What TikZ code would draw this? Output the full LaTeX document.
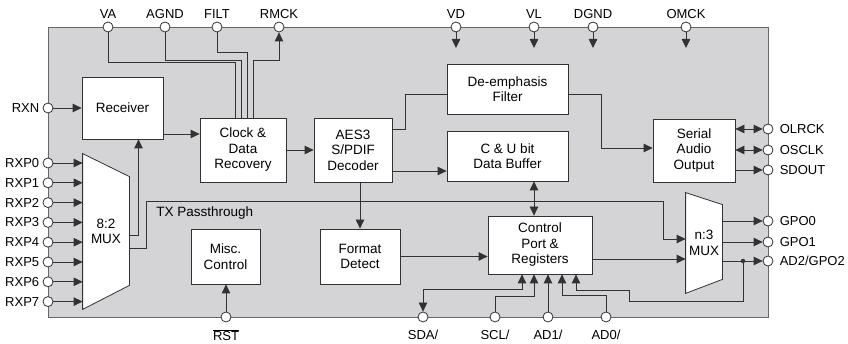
\documentclass[tikz,border=0pt]{standalone}
\usepackage{fontspec}
\setmainfont{Liberation Sans}
\usetikzlibrary{positioning, arrows.meta}
\definecolor{chipgray}{RGB}{212,212,214}
\definecolor{wiregray}{RGB}{50,50,50}

\begin{document}
\begin{tikzpicture}[x=1pt, y=-1pt, line width=0.8pt,
	chipbox/.style={draw=black!60, fill=chipgray, minimum width=720pt, minimum height=290pt, inner sep=0pt},
	block/.style={draw=wiregray, fill=white, align=center, inner sep=1pt, font=\fontsize{13.5}{15.5}\selectfont},
	muxbox/.style={inner sep=0pt, minimum width=#1},
	muxshape/.style={draw=wiregray, fill=white, line join=miter},
	boxtext/.style={align=center, font=\fontsize{13.5}{15.5}\selectfont},
	pinlbl/.style={inner sep=0pt, font=\fontsize{13}{15}\selectfont},
	pad/.style={circle, draw=wiregray, fill=white, inner sep=0pt, minimum size=10pt},
	toppad/.style={pad, label={[pinlbl, yshift=3pt]above:#1}},
	botpad/.style={pad, label={[pinlbl, yshift=-7pt]below:#1}},
	leftpad/.style={pad, label={[pinlbl, xshift=-3pt]left:#1}},
	rightpad/.style={pad, label={[pinlbl, xshift=6pt]right:#1}},
	dot/.style={circle, fill=wiregray, inner sep=0pt, minimum size=4.5pt},
	wire/.style={draw=wiregray},
	arr/.style={-{Triangle[length=9pt, width=8.5pt]}},
	dbl/.style={{Triangle[length=9pt, width=8.5pt]}-{Triangle[length=9pt, width=8.5pt]}}
	]
	\useasboundingbox (0,0) rectangle (848,344);
	
	% chip body
	\node[chipbox] (chip) at (408,172) {};
	
	% blocks
	\node[block, minimum width=81pt, minimum height=62pt] (recv) at (122.5,108) {Receiver};
	\node[block, minimum width=86pt, minimum height=64pt] (cdr) at (243,150) {Clock \&\\Data\\Recovery};
	\node[block, minimum width=78pt, minimum height=64pt] (aes) at (353,150) {AES3\\S/PDIF\\Decoder};
	\node[block, minimum width=121pt, minimum height=50pt] (deemph) at (507.5,89) {De-emphasis\\Filter};
	\node[block, minimum width=121pt, minimum height=50pt] (cubuf) at (507.5,156) {C \& U bit\\Data Buffer};
	\node[block, minimum width=82pt, minimum height=63pt] (sao) at (694,150.5) {Serial\\Audio\\Output};
	\node[block, minimum width=104pt, minimum height=58pt] (ctrl) at (540,245) {Control\\Port \&\\Registers};
	\node[block, minimum width=80pt, minimum height=55pt] (fmt) at (360,256.5) {Format\\Detect};
	\node[block, minimum width=69pt, minimum height=55pt] (misc) at (225.5,256.5) {Misc.\\Control};
	
	% muxes
	\node[muxbox=46pt, minimum height=155pt] (mux8) at (106,231.5) {};
	\draw[muxshape] (mux8.north west) -- ([yshift=-23pt]mux8.north east) -- ([yshift=24pt]mux8.south east) -- (mux8.south west) -- cycle;
	\node[boxtext] (mux8lbl) at (mux8) {8:2\\MUX};
	\node[muxbox=36pt, minimum height=100pt] (n3mux) at (704,243) {};
	\draw[muxshape] (n3mux.north west) -- ([yshift=-12pt]n3mux.north east) -- ([yshift=14pt]n3mux.south east) -- (n3mux.south west) -- cycle;
	\node[boxtext] (n3muxlbl) at (n3mux) {n:3\\MUX};
	
	% pins
	\node[toppad=VA] (va) at (108,27) {};
	\node[toppad=AGND] (agnd) at (165,27) {};
	\node[toppad=FILT] (filt) at (217,27) {};
	\node[toppad=RMCK] (rmck) at (279,27) {};
	\node[toppad=VD] (vd) at (456,27) {};
	\node[toppad=VL] (vl) at (534,27) {};
	\node[toppad=DGND] (dgnd) at (593,27) {};
	\node[toppad=OMCK] (omck) at (686,27) {};
	
	\node[leftpad=RXN] (rxn) at (48,108) {};
	\foreach \i in {0,...,7}
		\node[leftpad=RXP\i] (rxp\i) at (48,{163+19.8*\i}) {};
	
	\node[rightpad=OLRCK] (olrck) at (768,129) {};
	\node[rightpad=OSCLK] (osclk) at (768,150) {};
	\node[rightpad=SDOUT] (sdout) at (768,170) {};
	\node[rightpad=GPO0] (gpo0) at (768,221) {};
	\node[rightpad=GPO1] (gpo1) at (768,242) {};
	\node[rightpad=AD2/GPO2] (ad2) at (768,261) {};
	
	\node[botpad={$\overline{\hbox{RST}}$}] (rst) at (226,317) {};
	\node[botpad=SDA/] (sda) at (423,317) {};
	\node[botpad=SCL/] (scl) at (495,317) {};
	\node[botpad=AD1/] (ad1) at (548,317) {};
	\node[botpad=AD0/] (ad0) at (606,317) {};
	
	% supply and clock pins
	\draw[wire] (va) |- ([xshift=-8pt, yshift=55pt]cdr.north) -- ([xshift=-8pt]cdr.north);
	\draw[wire] (agnd) |- ([xshift=-2pt, yshift=57pt]cdr.north) -- ([xshift=-2pt]cdr.north);
	\draw[wire] (filt) |- ([xshift=4pt, yshift=65pt]cdr.north) -- ([xshift=4pt]cdr.north);
	\draw[wire, arr] ([xshift=10pt]cdr.north) |- ([yshift=-33pt]rmck.center) -- (rmck);
	\foreach \p in {vd, vl, dgnd, omck}
		\draw[wire, arr] (\p) -- ([yshift=-21pt]\p.center);
	
	% inputs
	\draw[wire, arr] (rxn) -- (rxn -| recv.west);
	\foreach \i in {0,...,7}
		\draw[wire, arr] (rxp\i) -- (rxp\i -| mux8.west);
	\draw[wire, arr] ([yshift=-3.5pt]mux8.east) -| ([xshift=16pt]recv.south);
	\draw[wire, arr] ([yshift=-16.5pt]mux8.east) -| (146,201) -| (663,239) -- ([yshift=4pt]n3mux.west);
	\node[pinlbl, font=\fontsize{13.5}{15.5}\selectfont, anchor=base west] (txlbl) at (156,217) {TX Passthrough};
	
	% data path
	\draw[wire, arr] ([yshift=-26pt]recv.east) -- ([yshift=16pt]cdr.west);
	\draw[wire, arr] (cdr) -- (aes);
	\draw[wire] ([yshift=21pt]aes.east) -- ++(13pt,0) |- ([yshift=-5pt]deemph.west);
	\draw[wire, arr] ([yshift=-21pt]aes.east) -- ([yshift=-15pt]cubuf.west);
	\draw[wire, arr] (aes.south -| fmt.north) -- (fmt.north);
	\draw[wire, arr] ([yshift=-5pt]deemph.east) -- ++(33pt,0) |- ([yshift=2.5pt]sao.west);
	\draw[wire, dbl] (olrck -| sao.east) -- (olrck);
	\draw[wire, dbl] (osclk -| sao.east) -- (osclk);
	\draw[wire, arr] (sdout -| sao.east) -- (sdout);
	
	% control
	\draw[wire, dbl] ([xshift=26.5pt]cubuf.south) -- ([xshift=-6pt]ctrl.north);
	\draw[wire, arr] (fmt.east) -- (fmt.east -| ctrl.west);
	\draw[wire, arr] ([yshift=-14pt]ctrl.east) -- ([yshift=-16pt]n3mux.west);
	\foreach \p in {gpo0, gpo1, ad2}
		\draw[wire, arr] (\p -| n3mux.east) -- (\p);
	\node[dot] (ad2dot) at (743,261) {};
	\draw[wire, arr] (ad2dot.center) |- (629,301) |- (576,290) -- ([xshift=36pt]ctrl.south);
	\draw[wire, dbl] ([xshift=-18pt]ctrl.south) |- ([yshift=28pt]sda.center) -- (sda);
	\draw[wire, arr] (scl) |- ([xshift=-6pt, yshift=-22pt]ctrl.south) -- ([xshift=-6pt]ctrl.south);
	\draw[wire, arr] (ad1) -- (ad1 |- ctrl.south);
	\draw[wire, arr] (ad0) |- ([xshift=22pt, yshift=-21pt]ctrl.south) -- ([xshift=22pt]ctrl.south);
	\draw[wire, arr] (rst) -- (rst |- misc.south);
	
\end{tikzpicture}
\end{document}
